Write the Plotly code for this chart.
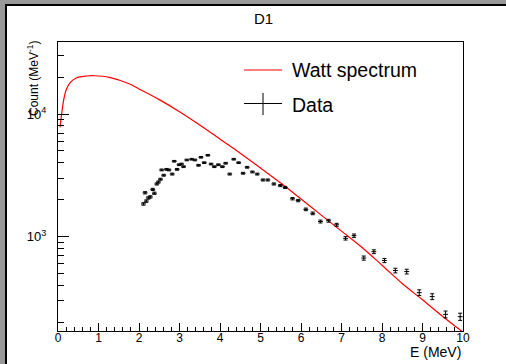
import plotly.graph_objects as go

# ---- data ----
watt_e = [0.05, 0.09, 0.14, 0.20, 0.30, 0.45, 0.70, 0.90, 1.27, 1.77, 2.0, 2.5, 3.0, 3.5,
          4.03, 4.5, 5.0, 5.5, 6.0, 6.5, 7.0, 7.5, 8.0, 8.5, 9.0, 9.5, 10.0]
watt_v = [7790, 10000, 13000, 15700, 18000, 19650, 20400, 20500, 19900, 17560, 16000, 13100,
          10450, 8140, 6140, 4790, 3630, 2735, 2030, 1500, 1110, 820, 586, 415, 306, 224, 167]

data_e = [2.11, 2.15, 2.18, 2.23, 2.28, 2.34, 2.38, 2.44, 2.48, 2.53, 2.56, 2.61, 2.68, 2.74,
          2.82, 2.87, 2.94, 2.99, 3.05, 3.10, 3.18, 3.30, 3.38, 3.47, 3.53, 3.61, 3.70, 3.78,
          3.86, 3.96, 4.06, 4.14, 4.24, 4.34, 4.46, 4.57, 4.67, 4.80, 4.92, 5.06, 5.18, 5.33,
          5.49, 5.61, 5.79, 5.93, 6.12, 6.29, 6.48, 6.68, 6.88, 7.10, 7.31, 7.55, 7.80, 8.06,
          8.33, 8.61, 8.92, 9.24, 9.57, 9.93]
data_v = [1850, 2280, 1950, 2070, 2110, 2430, 2260, 2690, 2790, 2940, 3500, 3170, 3540, 3500,
          3240, 4120, 3540, 3860, 3910, 3720, 4220, 4280, 4220, 3820, 4440, 4010, 4610, 3910,
          3720, 3860, 3720, 3970, 3240, 4280, 4010, 3290, 3680, 3370, 3240, 2900, 2900, 2690,
          2610, 2520, 2040, 1970, 1670, 1550, 1330, 1350, 1250, 970, 1020, 670, 755, 640,
          530, 520, 350, 325, 233, 223]
data_err = [43, 48, 44, 45, 46, 49, 48, 52, 53, 54, 59, 56, 60, 59,
            57, 64, 60, 62, 63, 61, 65, 65, 65, 62, 67, 63, 68, 63,
            61, 62, 61, 63, 57, 65, 63, 57, 61, 58, 57, 54, 54, 52,
            51, 50, 45, 44, 41, 39, 36, 37, 35, 31, 32, 26, 27, 25,
            23, 23, 19, 18, 15, 15]

x_tickvals = [0, 1, 2, 3, 4, 5, 6, 7, 8, 9, 10]
x_ticktext = ["0", "1", "2", "3", "4", "5", "6", "7", "8", "9", "10"]
y_tickvals = [1000, 10000]
y_ticktext = ["10<sup>3</sup>", "10<sup>4</sup>"]
y_minorvals = [200, 300, 400, 500, 600, 700, 800, 900,
               2000, 3000, 4000, 5000, 6000, 7000, 8000, 9000, 20000, 30000]

FONT = "Liberation Sans, Arial, Helvetica, sans-serif"

fig = go.Figure()
fig.add_trace(go.Scatter(
    x=watt_e, y=watt_v, mode="lines", line=dict(color="#ff0000", width=1.2, shape="spline"),
    showlegend=False, hoverinfo="skip"))
fig.add_trace(go.Scatter(
    x=data_e, y=data_v, mode="markers",
    marker=dict(size=1, color="black"),
    error_y=dict(type="data", array=data_err, visible=True, color="black", thickness=1, width=2),
    error_x=dict(type="constant", value=0.06, visible=True, color="black", thickness=1, width=0),
    showlegend=False, hoverinfo="skip"))

fig.update_layout(
    width=506, height=364,
    margin=dict(l=58, r=43, t=42, b=33),
    paper_bgcolor="white", plot_bgcolor="white",
    font=dict(family=FONT, color="black"),
    showlegend=False,
    xaxis=dict(range=[0, 10], showgrid=False, zeroline=False, showline=True, mirror=True,
               linecolor="black", linewidth=1,
               tickmode="array", tickvals=x_tickvals, ticktext=x_ticktext,
               ticks="inside", ticklen=8, tickcolor="black", tickfont=dict(size=12),
               ticklabelstandoff=-4,
               minor=dict(ticks="inside", ticklen=4, dtick=0.2, tick0=0, tickcolor="black",
                          showgrid=False)),
    yaxis=dict(type="log", range=[2.2315, 4.5868], showgrid=False, zeroline=False,
               showline=True, mirror=True, linecolor="black", linewidth=1,
               tickmode="array", tickvals=y_tickvals, ticktext=y_ticktext,
               ticks="inside", ticklen=11, tickcolor="black", tickfont=dict(size=13),
               ticklabelstandoff=8,
               minor=dict(ticks="inside", ticklen=6, tickmode="array", tickvals=y_minorvals,
                          tickcolor="black", showgrid=False)),
    annotations=[
        dict(text="D1", xref="paper", yref="paper", x=0.5076, y=1, yshift=24,
             xanchor="center", yanchor="middle", showarrow=False, font=dict(size=15)),
        dict(text="E (MeV)", xref="paper", yref="paper", x=1, y=0, yshift=-21,
             xanchor="right", yanchor="middle", showarrow=False, font=dict(size=14)),
        dict(text="Count (MeV<sup>-1</sup>)", xref="paper", yref="paper", x=0, y=1,
             xshift=-25, yshift=-37, textangle=-90, xanchor="center", yanchor="middle",
             showarrow=False, font=dict(size=12)),
        dict(text="Watt spectrum", xref="paper", yref="paper", x=0.5728, y=0.9048,
             xanchor="left", yanchor="middle", showarrow=False, font=dict(size=19.5)),
        dict(text="Data", xref="paper", yref="paper", x=0.5728, y=0.782,
             xanchor="left", yanchor="middle", showarrow=False, font=dict(size=19.5)),
    ],
    shapes=[
        # legend samples
        dict(type="line", xref="paper", yref="paper", x0=0.4593, x1=0.5531, y0=0.9031, y1=0.9031,
             line=dict(color="#ff0000", width=1.2)),
        dict(type="line", xref="paper", yref="paper", x0=0.4593, x1=0.5531, y0=0.7872, y1=0.7872,
             line=dict(color="black", width=1)),
        dict(type="line", xref="paper", yref="paper", x0=0.5062, x1=0.5062, y0=0.7474, y1=0.8235,
             line=dict(color="black", width=1)),
        # canvas bevel (top and left)
        dict(type="rect", xref="paper", yref="paper", x0=-0.15, x1=1.2, y0=1.1315, y1=1.16,
             line=dict(width=0), fillcolor="#999999", layer="above"),
        dict(type="rect", xref="paper", yref="paper", x0=-0.1309, x1=1.2, y0=1.1246, y1=1.1315,
             line=dict(width=0), fillcolor="black", layer="above"),
        dict(type="rect", xref="paper", yref="paper", x0=-0.15, x1=-0.1309, y0=-0.2, y1=1.16,
             line=dict(width=0), fillcolor="#999999", layer="above"),
        dict(type="rect", xref="paper", yref="paper", x0=-0.1309, x1=-0.1259, y0=-0.2, y1=1.1315,
             line=dict(width=0), fillcolor="black", layer="above"),
    ],
)

fig.write_html("out.html")
